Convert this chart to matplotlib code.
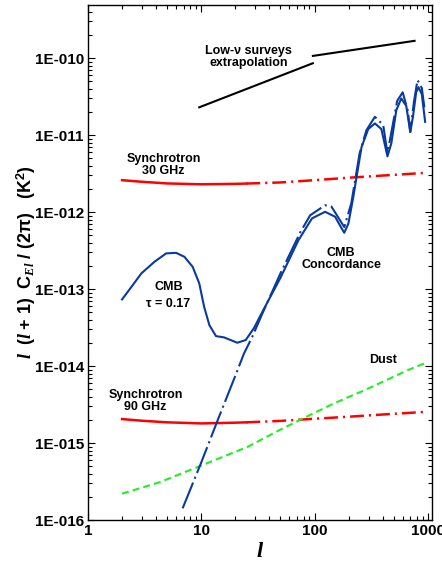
import numpy as np
import matplotlib
matplotlib.use("Agg")
from matplotlib import pyplot as plt
from matplotlib.ticker import FixedLocator, LogLocator, NullFormatter

plt.rcParams['font.family'] = ['Liberation Sans', 'DejaVu Sans']
plt.rcParams['font.weight'] = 'bold'
plt.rcParams['mathtext.fontset'] = 'custom'
plt.rcParams['mathtext.rm'] = 'Liberation Sans:bold'
plt.rcParams['mathtext.bf'] = 'Liberation Sans:bold'
plt.rcParams['mathtext.it'] = 'Liberation Serif:italic:bold'
plt.rcParams['lines.scale_dashes'] = False

# CMB, tau = 0.17 (solid)
ell_tau = [2.0, 2.42, 2.96, 3.87, 4.9, 6.0, 7.1, 8.4, 9.6, 10.6, 11.8, 13.5, 15.9, 20.8,
           24.7, 29.2, 35.2, 50, 72, 95, 124, 152, 174, 183, 199, 220, 235, 260, 298,
           341, 389, 422, 440, 476, 527, 583, 645, 700, 739, 789, 828, 885, 947]
cl_tau = [7.35e-14, 1.07e-13, 1.6e-13, 2.27e-13, 2.91e-13, 2.96e-13, 2.63e-13, 1.95e-13,
          1.19e-13, 5.9e-14, 3.4e-14, 2.45e-14, 2.36e-14, 2.01e-14, 2.18e-14, 3.12e-14,
          5.3e-14, 1.4e-13, 4.3e-13, 8.3e-13, 1.01e-12, 8.7e-13, 6.1e-13, 5.4e-13, 7.1e-13,
          1.58e-12, 2.87e-12, 7.0e-12, 1.2e-11, 1.42e-11, 1.2e-11, 7.0e-12, 5.3e-12, 7.8e-12,
          2.11e-11, 3.0e-11, 2.4e-11, 1.1e-11, 1.73e-11, 3.6e-11, 4.2e-11, 3.4e-11, 1.49e-11]

# CMB concordance (dash-dot)
ell_conc = [6.85, 10, 14, 20, 23.8, 28.2, 34.6, 50, 75, 91.5, 124, 141, 183, 211, 250, 287,
            341, 404, 440, 537, 600, 665, 700, 754, 811, 885, 932]
cl_conc = [1.42e-16, 5.6e-16, 2.0e-15, 7.5e-15, 1.45e-14, 2.4e-14, 4.8e-14, 1.6e-13, 5.5e-13,
           9.1e-13, 1.23e-12, 1.18e-12, 6.4e-13, 1.3e-12, 5.8e-12, 1.16e-11, 1.73e-11,
           1.35e-11, 5.8e-12, 2.8e-11, 3.6e-11, 2.1e-11, 1.1e-11, 2.7e-11, 5.2e-11, 4.1e-11,
           2.3e-11]

# synchrotron, solid part then extrapolated part
ell_syn_a = [2, 3, 5, 10, 20, 25]
ell_syn_b = [25, 50, 100, 200, 500, 1000]
syn30_a = [2.6e-12, 2.48e-12, 2.36e-12, 2.3e-12, 2.33e-12, 2.35e-12]
syn30_b = [2.35e-12, 2.43e-12, 2.6e-12, 2.8e-12, 3.05e-12, 3.25e-12]
syn90_a = [2.05e-15, 1.95e-15, 1.86e-15, 1.8e-15, 1.84e-15, 1.86e-15]
syn90_b = [1.86e-15, 1.94e-15, 2.07e-15, 2.2e-15, 2.4e-15, 2.55e-15]

# dust
ell_dust = [2, 4.3, 10, 26, 48, 77, 150, 280, 670, 1000]
cl_dust = [2.2e-16, 3.1e-16, 5.1e-16, 9.0e-16, 1.45e-15, 2.05e-15, 3.3e-15, 4.9e-15, 8.9e-15, 1.13e-14]

# low-nu surveys extrapolation (two segments)
ell_low1 = [9.6, 96.7]
val_low1 = [2.3e-11, 8.6e-11]
ell_low2 = [96.7, 764]
val_low2 = [1.07e-10, 1.68e-10]

ytick_vals = [1e-16, 1e-15, 1e-14, 1e-13, 1e-12, 1e-11, 1e-10]
ytick_labels = ['1E-016', '1E-015', '1E-014', '1E-013', '1E-012', '1E-011', '1E-010']
xtick_vals = [1, 10, 100, 1000]
xtick_labels = ['1', '10', '100', '1000']

BLUE = '#0a3a9e'
RED = '#ff0000'
GREEN = '#22ee22'

fig = plt.figure(figsize=(4.42, 5.61), dpi=100)
ax = fig.add_axes([0.199, 0.073, 0.778, 0.918])

ax.plot(ell_low1, val_low1, color='black', lw=1.5)
ax.plot(ell_low2, val_low2, color='black', lw=1.5)

ax.plot(ell_syn_a, syn30_a, color=RED, lw=1.8)
ax.plot(ell_syn_b, syn30_b, color=RED, lw=1.8, linestyle=(0, (10, 3.6, 1.5, 3.6)))
ax.plot(ell_syn_a, syn90_a, color=RED, lw=1.8)
ax.plot(ell_syn_b, syn90_b, color=RED, lw=1.8, linestyle=(0, (10, 3.6, 1.5, 3.6)))

ax.plot(ell_dust, cl_dust, color=GREEN, lw=1.5, linestyle=(0, (5, 3)))

ax.plot(ell_conc, cl_conc, color=BLUE, lw=1.5, linestyle=(0, (20, 3, 1.5, 3)),
        solid_joinstyle='round', dash_joinstyle='round')
ax.plot(ell_tau, cl_tau, color=BLUE, lw=1.5, solid_joinstyle='round')

ax.set_xscale('log')
ax.set_yscale('log')
ax.set_xlim(1, 1085)
ax.set_ylim(1e-16, 4.9e-10)

ax.xaxis.set_major_locator(FixedLocator(xtick_vals))
ax.set_xticklabels(xtick_labels)
ax.yaxis.set_major_locator(FixedLocator(ytick_vals))
ax.set_yticklabels(ytick_labels)
ax.xaxis.set_minor_locator(LogLocator(base=10, subs=np.arange(2, 10)))
ax.yaxis.set_minor_locator(LogLocator(base=10, subs=np.arange(2, 10)))
ax.xaxis.set_minor_formatter(NullFormatter())
ax.yaxis.set_minor_formatter(NullFormatter())
ax.tick_params(which='both', direction='in', top=True, right=True, labelsize=11, width=0.8)
ax.tick_params(which='major', length=5, pad=3)
ax.tick_params(which='minor', length=3)
for lab in ax.get_xticklabels() + ax.get_yticklabels():
    lab.set_fontweight('bold')
for sp in ax.spines.values():
    sp.set_linewidth(1.0)

ax.set_xlabel(r'$l$', fontsize=16, labelpad=2)
ax.set_ylabel(r'$l\ \ (l\ \mathrm{+}\ 1)\ \ \mathrm{C}_{El}\ \mathrm{/}\ (2\mathrm{\pi})\ \ \ (\mathrm{K}^{2})$',
              fontsize=13, labelpad=-2.5)

ax.text(26, 1.03e-10, 'Low-ν surveys\nextrapolation', ha='center', va='center', fontsize=9, linespacing=1.0)
ax.text(4.64, 4.1e-12, 'Synchrotron\n30 GHz', ha='center', va='center', fontsize=9, linespacing=1.0)
ax.text(172, 2.45e-13, 'CMB\nConcordance', ha='center', va='center', fontsize=9, linespacing=1.0)
ax.text(5.13, 8.3e-14, 'CMB\nτ = 0.17', ha='center', va='center', fontsize=9, linespacing=1.5)
ax.text(403, 1.2e-14, 'Dust', ha='center', va='center', fontsize=9)
ax.text(3.23, 3.5e-15, 'Synchrotron\n90 GHz', ha='center', va='center', fontsize=9, linespacing=1.0)

fig.savefig('out.png', dpi=100)
